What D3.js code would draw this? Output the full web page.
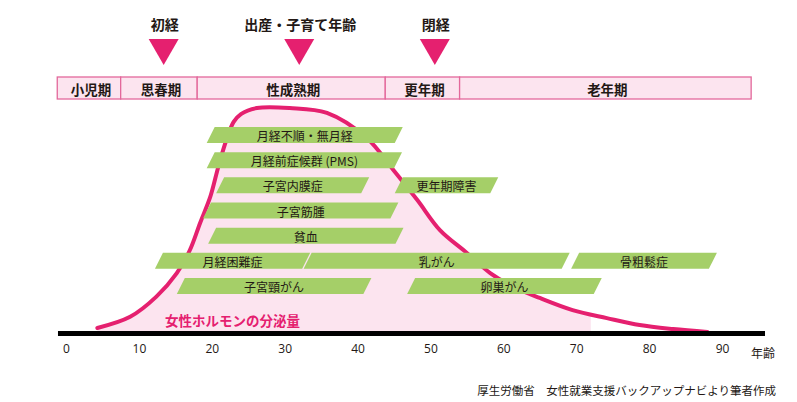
<!DOCTYPE html>
<html><head><meta charset="utf-8">
<script src="https://cdn.jsdelivr.net/npm/d3@7"></script>
<style>html,body{margin:0;padding:0;background:#fff;}svg{display:block;}</style>
</head><body>
<svg id="chart" width="797" height="402"></svg>
<script>
// ---- data ----
const tickValues = [0, 10, 20, 30, 40, 50, 60, 70, 80, 90];
const axisUnit = "年齢";
const stageNames = ["小児期", "思春期", "性成熟期", "更年期", "老年期"];
const stageBounds = [-1.2, 7.5, 18, 43.8, 54, 94];
const eventLabels = ["初経", "出産・子育て年齢", "閉経"];
const eventAges = [13.4, 32, 50.6];
const hormoneAges =   [4.3, 8.8, 12.4, 15.2, 17.0, 18.4, 19.8, 20.9, 22.0, 23.0, 24.0, 26.2, 30.7, 35.8, 41.3, 44.8, 48.2, 51.3, 55.0, 58.2, 61.5, 65.0, 69.5, 74.2, 78.7, 83.3, 88.0];
const hormoneLevels = [1.8, 6.8, 15.8, 26.3, 36.6, 48.7, 60.4, 73.8, 85.7, 93.8, 97.3, 100, 100, 97.8, 86.5, 72.8, 58.9, 45.5, 35.3, 26.3, 20.0, 15.2, 9.8, 6.2, 3.1, 1.3, 0];
const hormoneFillEnd = 72;
const hormoneLabel = "女性ホルモンの分泌量";
const barLabels = ["月経不順・無月経", "月経前症候群 (PMS)", "子宮内膜症", "更年期障害", "子宮筋腫", "貧血", "月経困難症", "乳がん", "骨粗鬆症", "子宮頸がん", "卵巣がん"];
const barRows =   [0, 1, 2, 2, 3, 4, 5, 5, 5, 6, 6];
const barStarts = [19.3, 19.3, 20.6, 45.1, 18.8, 19.5, 12.2, 32.6, 69.3, 15.2, 46.8];
const barEnds =   [46.2, 46.1, 41.6, 59.3, 45.6, 46.3, 33.5, 69.1, 89.3, 41.9, 73.5];
const sourceText = "厚生労働省　女性就業支援バックアップナビより筆者作成";

// ---- layout ----
const svg = d3.select("#chart");
const x = d3.scaleLinear().domain([0, 90]).range([66, 722]);
const yH = d3.scaleLinear().domain([0, 100]).range([332, 108]);
const yRow = d3.scaleLinear().domain([0, 6]).range([127, 278]);
const barH = 16, slant = 8;
const pink = "#e5206f", lightPink = "#fce4ef", green = "#a5cf68";
const jp = "'Noto Sans CJK JP', 'Noto Sans', sans-serif";

svg.append("rect").attr("width", 797).attr("height", 402).attr("fill", "#fff");

// hormone area (clipped)
const pts = hormoneAges.map((a, i) => [a, hormoneLevels[i]]);
svg.append("clipPath").attr("id", "fillclip")
  .append("rect").attr("x", 0).attr("y", 0).attr("width", x(hormoneFillEnd)).attr("height", 402);
svg.append("path").datum(pts)
  .attr("clip-path", "url(#fillclip)")
  .attr("fill", lightPink)
  .attr("d", d3.area().x(d => x(d[0])).y0(yH(0)).y1(d => yH(d[1])).curve(d3.curveCatmullRom.alpha(0.5)));
svg.append("path").datum(pts)
  .attr("fill", "none").attr("stroke", pink).attr("stroke-width", 4).attr("stroke-linecap", "round")
  .attr("d", d3.line().x(d => x(d[0])).y(d => yH(d[1])).curve(d3.curveCatmullRom.alpha(0.5)));

// bars
const bars = barLabels.map((l, i) => ({label: l, row: barRows[i], s: barStarts[i], e: barEnds[i]}));
const bg = svg.append("g");
bg.selectAll("path").data(bars).join("path")
  .attr("fill", green)
  .attr("d", d => {
    const x0 = x(d.s), x1 = x(d.e), t = yRow(d.row), b = t + barH;
    return `M${x0},${b}L${x0 + slant},${t}L${x1},${t}L${x1 - slant},${b}Z`;
  });
bg.selectAll("text").data(bars).join("text")
  .attr("x", d => (x(d.s) + x(d.e)) / 2).attr("y", d => yRow(d.row) + barH / 2 + 0.5)
  .attr("text-anchor", "middle").attr("dominant-baseline", "central")
  .attr("font-family", jp).attr("font-size", 12).attr("fill", "#231815")
  .text(d => d.label);

// hormone label
svg.append("text").attr("x", 165).attr("y", 320)
  .attr("dominant-baseline", "central")
  .attr("font-family", jp).attr("font-weight", "bold").attr("font-size", 13.5).attr("fill", pink)
  .text(hormoneLabel);

// axis line
svg.append("rect").attr("x", x(-1.1)).attr("y", 331).attr("width", x(95.9) - x(-1.1)).attr("height", 5).attr("fill", "#000");

// ticks
const axis = d3.axisBottom(x).tickValues(tickValues).tickSize(0).tickPadding(0);
const ag = svg.append("g").attr("transform", "translate(0,344)").call(axis);
ag.select(".domain").remove();
ag.selectAll("text").attr("font-family", "'Open Sans', 'Noto Sans', sans-serif").attr("font-size", 12).attr("fill", "#231815").attr("dy", "0.71em");
svg.append("text").attr("x", 763).attr("y", 352).attr("text-anchor", "middle").attr("dominant-baseline", "central")
  .attr("font-family", jp).attr("font-size", 12).attr("fill", "#231815").text(axisUnit);

// stage band
const stages = stageNames.map((n, i) => ({name: n, a: stageBounds[i], b: stageBounds[i + 1]}));
const sg = svg.append("g");
sg.selectAll("rect").data(stages).join("rect")
  .attr("x", d => x(d.a)).attr("y", 77).attr("width", d => x(d.b) - x(d.a)).attr("height", 22)
  .attr("fill", lightPink).attr("stroke", "#e3689b").attr("stroke-width", 1.3);
sg.selectAll("text").data(stages).join("text")
  .attr("x", d => (x(d.a) + x(d.b)) / 2 + 2).attr("y", 88.5)
  .attr("text-anchor", "middle").attr("dominant-baseline", "central")
  .attr("font-family", jp).attr("font-weight", "bold").attr("font-size", 13.5).attr("fill", "#231815")
  .text(d => d.name);

// events
const events = eventLabels.map((l, i) => ({label: l, age: eventAges[i]}));
const eg = svg.append("g");
eg.selectAll("path").data(events).join("path")
  .attr("fill", pink)
  .attr("d", d => { const c = x(d.age); return `M${c - 15},39L${c + 15},39L${c},65Z`; });
eg.selectAll("text").data(events).join("text")
  .attr("x", d => x(d.age) + 1).attr("y", 24)
  .attr("text-anchor", "middle").attr("dominant-baseline", "central")
  .attr("font-family", jp).attr("font-weight", "bold").attr("font-size", 14).attr("fill", "#231815")
  .text(d => d.label);

// source
svg.append("text").attr("x", 776).attr("y", 390).attr("text-anchor", "end").attr("dominant-baseline", "central")
  .attr("font-family", jp).attr("font-size", 11.5).attr("fill", "#231815").text(sourceText);
</script>
</body></html>
